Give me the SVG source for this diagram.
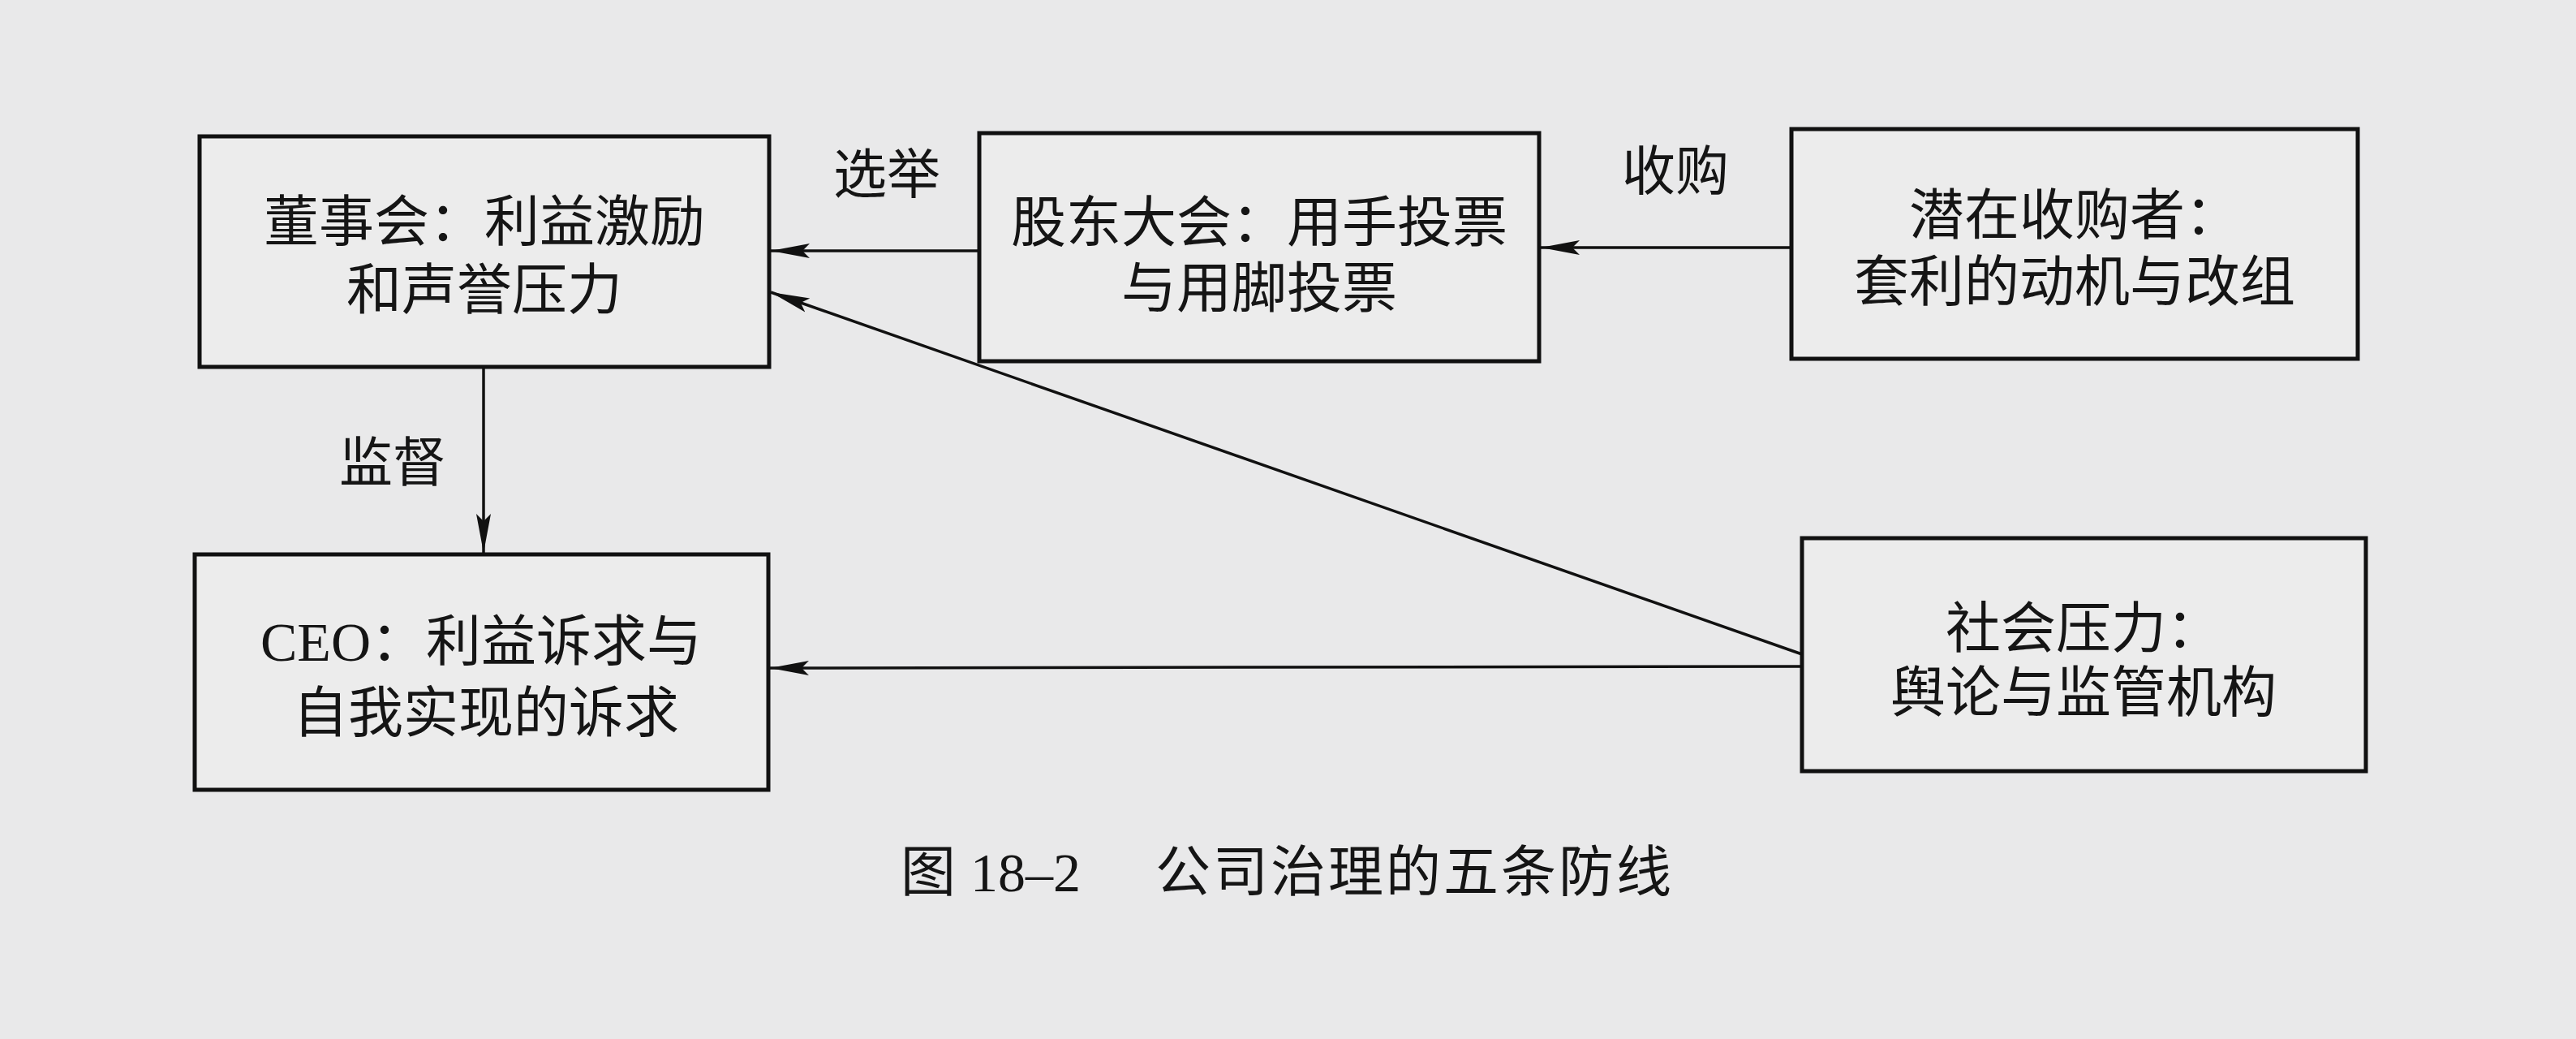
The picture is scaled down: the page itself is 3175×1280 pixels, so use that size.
<svg xmlns="http://www.w3.org/2000/svg" width="3175" height="1280" viewBox="0 0 3175 1280">
<defs>
<marker id="ah" markerUnits="userSpaceOnUse" markerWidth="50" markerHeight="20" viewBox="0 -10 50 20" refX="48" refY="0" orient="auto">
<path d="M48,0 L0,-9 L9,0 L0,9 Z" fill="#111"/>
</marker>
</defs>
<style>
.box{fill:#ececec;stroke:#111;stroke-width:5}
.t{font-family:"Noto Sans CJK SC","Noto Sans",sans-serif;font-size:68px;fill:#151515;text-anchor:middle}
.lbl{font-family:"Noto Sans CJK SC","Noto Sans",sans-serif;font-size:66px;fill:#151515;text-anchor:middle}
.ser{font-family:"Liberation Serif","Noto Sans CJK SC",serif}
.c{stroke:#111;stroke-width:3.5;fill:none;marker-end:url(#ah)}
</style>
<rect width="3175" height="1280" fill="#e9e9ea"/>
<g id="board">
<rect class="box" x="246" y="168" width="702" height="284"/>
<text class="t"><tspan x="597" y="297">董事会：利益激励</tspan><tspan x="597" y="381">和声誉压力</tspan></text>
</g>
<g id="shareholders">
<rect class="box" x="1207" y="164" width="690" height="281"/>
<text class="t"><tspan x="1552" y="298">股东大会：用手投票</tspan><tspan x="1552" y="379">与用脚投票</tspan></text>
</g>
<g id="acquirer">
<rect class="box" x="2208" y="159" width="698" height="283"/>
<text class="t"><tspan x="2557" y="289">潜在收购者：</tspan><tspan x="2557" y="371">套利的动机与改组</tspan></text>
</g>
<g id="ceo">
<rect class="box" x="240" y="683" width="707" height="290"/>
<text class="t"><tspan x="593" y="814"><tspan class="ser">CEO</tspan>：利益诉求与</tspan><tspan x="599" y="902">自我实现的诉求</tspan></text>
</g>
<g id="social">
<rect class="box" x="2221" y="663" width="695" height="287"/>
<text class="t"><tspan x="2568" y="798">社会压力：</tspan><tspan x="2568" y="877">舆论与监管机构</tspan></text>
</g>
<g id="connectors">
<line class="c" x1="1207" y1="309" x2="950" y2="309"/>
<line class="c" x1="2208" y1="305" x2="1899" y2="305"/>
<line class="c" x1="596" y1="452" x2="596" y2="681"/>
<line class="c" x1="2221" y1="806" x2="950" y2="360"/>
<line class="c" x1="2221" y1="821" x2="949" y2="823"/>
<text class="lbl" x="1093" y="238">选举</text>
<text class="lbl" x="2065" y="234">收购</text>
<text class="lbl" x="484" y="593">监督</text>
</g>
<text class="t" style="text-anchor:start" x="1110" y="1098">图<tspan class="ser" x="1196">18–2</tspan><tspan x="1424" letter-spacing="3">公司治理的五条防线</tspan></text>
</svg>
